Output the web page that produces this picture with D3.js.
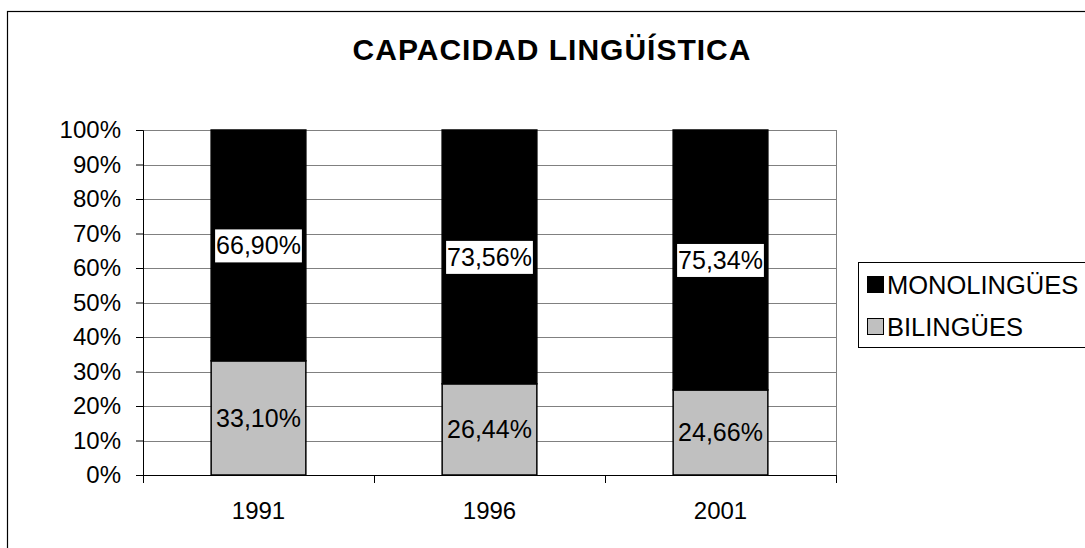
<!DOCTYPE html>
<meta charset="utf-8">
<style>
    body { margin: 0; background: #fff; }
    text { font-family: "Liberation Sans", Arial, sans-serif; fill: #000; }
    .grid line { stroke: #808080; stroke-width: 1px; }
</style>
<svg width="1085" height="548"></svg>
<script src="https://d3js.org/d3.v7.min.js"></script>
<script>

    var years = ["1991", "1996", "2001"];
    var series = ["MONOLINGÜES", "BILINGÜES"];
    var bilingues = [0.3310, 0.2644, 0.2466];
    var monolingues = [0.6690, 0.7356, 0.7534];
    var yTicks = [0, 0.1, 0.2, 0.3, 0.4, 0.5, 0.6, 0.7, 0.8, 0.9, 1];

    var colors = { "MONOLINGÜES": "#000000", "BILINGÜES": "#c0c0c0" };

    var locale = d3.formatLocale({ decimal: ",", thousands: ".", grouping: [3], currency: ["", "€"] });
    var pct2 = locale.format(".2%");
    var pct0 = d3.format(".0%");

    var svg = d3.select("svg");
    var plot = { left: 143, right: 836, top: 130, bottom: 475 };

    // outer chart border
    svg.append("rect")
        .attr("x", 7.5).attr("y", 11.5)
        .attr("width", 1100).attr("height", 560)
        .attr("fill", "#fff")
        .attr("stroke", "#000")
        .attr("stroke-width", 1.2);

    svg.append("text")
        .attr("x", 552)
        .attr("y", 60)
        .attr("text-anchor", "middle")
        .style("font-size", "30px")
        .style("font-weight", "bold")
        .style("letter-spacing", "1px")
        .text("CAPACIDAD LINGÜÍSTICA");

    var x = d3.scaleBand()
        .domain(years)
        .range([plot.left, plot.right])
        .paddingInner(0.59)
        .paddingOuter(0.295);

    var y = d3.scaleLinear()
        .domain([0, 1])
        .range([plot.bottom, plot.top]);

    // gridlines
    svg.append("g")
        .attr("class", "grid")
        .selectAll("line")
        .data(yTicks.slice(1))
        .enter().append("line")
        .attr("x1", plot.left).attr("x2", plot.right)
        .attr("y1", function (d) { return Math.round(y(d)) + 0.5; })
        .attr("y2", function (d) { return Math.round(y(d)) + 0.5; });

    svg.append("line")
        .attr("x1", plot.right + 0.5).attr("x2", plot.right + 0.5)
        .attr("y1", plot.top).attr("y2", plot.bottom)
        .attr("stroke", "#808080");

    // stacked bars
    var stackData = years.map(function (yr, i) {
        return { year: yr, "BILINGÜES": bilingues[i], "MONOLINGÜES": monolingues[i] };
    });
    var stack = d3.stack().keys(["BILINGÜES", "MONOLINGÜES"]);
    var layers = stack(stackData);

    var layerG = svg.append("g")
        .selectAll("g")
        .data(layers)
        .enter().append("g")
        .attr("fill", function (d) { return colors[d.key]; });

    layerG.selectAll("rect")
        .data(function (d) { return d; })
        .enter().append("rect")
        .attr("x", function (d) { return x(d.data.year); })
        .attr("width", x.bandwidth())
        .attr("y", function (d) { return y(d[1]); })
        .attr("height", function (d) { return y(d[0]) - y(d[1]); })
        .attr("stroke", "#000")
        .attr("stroke-width", 1.5);

    // data labels
    layers.forEach(function (layer) {
        layer.forEach(function (d) {
            var cx = x(d.data.year) + x.bandwidth() / 2;
            var cy = y((d[0] + d[1]) / 2);
            var g = svg.append("g");
            var t = g.append("text")
                .attr("x", cx)
                .attr("y", cy)
                .attr("dy", "0.36em")
                .attr("text-anchor", "middle")
                .style("font-size", "25px")
                .text(pct2(d.data[layer.key]));
            if (layer.key === "MONOLINGÜES") {
                var bb = t.node().getBBox();
                g.insert("rect", "text")
                    .attr("x", bb.x - 1)
                    .attr("y", cy - 16)
                    .attr("width", bb.width + 2)
                    .attr("height", 33)
                    .attr("fill", "#fff");
            }
        });
    });

    // y axis
    var yAxis = svg.append("g")
        .attr("transform", "translate(" + plot.left + ",0)")
        .call(d3.axisLeft(y).tickValues(yTicks).tickFormat(pct0).tickSize(7).tickPadding(15));
    yAxis.selectAll("text").style("font-size", "24px").attr("fill", "#000");
    yAxis.selectAll("line").attr("stroke", "#000");
    yAxis.select(".domain").attr("stroke", "#000");

    // x axis
    var xAxis = svg.append("g")
        .attr("transform", "translate(0," + plot.bottom + ")")
        .call(d3.axisBottom(x).tickSize(0).tickPadding(27));
    xAxis.selectAll("text").style("font-size", "24px").attr("fill", "#000");
    xAxis.select(".domain").attr("stroke", "#000").attr("d", "M" + plot.left + ",0.5H" + plot.right);

    var bounds = [plot.left].concat(years.map(function (d) { return x(d) + x.bandwidth() / 2 + x.step() / 2; }));
    xAxis.selectAll(".sep")
        .data(bounds)
        .enter().append("line")
        .attr("class", "sep")
        .attr("x1", function (d) { return Math.round(d) + 0.5; })
        .attr("x2", function (d) { return Math.round(d) + 0.5; })
        .attr("y1", 0).attr("y2", 8)
        .attr("stroke", "#000");

    // legend
    svg.append("rect")
        .attr("x", 858.5).attr("y", 262.5)
        .attr("width", 240).attr("height", 85)
        .attr("fill", "#fff")
        .attr("stroke", "#000");

    var legend = svg.append("g")
        .selectAll("g")
        .data(series)
        .enter().append("g")
        .attr("transform", function (d, i) { return "translate(867," + (285 + i * 42) + ")"; });

    legend.append("rect")
        .attr("x", 0.5).attr("y", -8.5)
        .attr("width", 16).attr("height", 16)
        .attr("fill", function (d) { return colors[d]; })
        .attr("stroke", "#000");

    legend.append("text")
        .attr("x", 20)
        .attr("y", 0)
        .attr("dy", "0.36em")
        .style("font-size", "25.5px")
        .text(function (d) { return d; });

</script>
